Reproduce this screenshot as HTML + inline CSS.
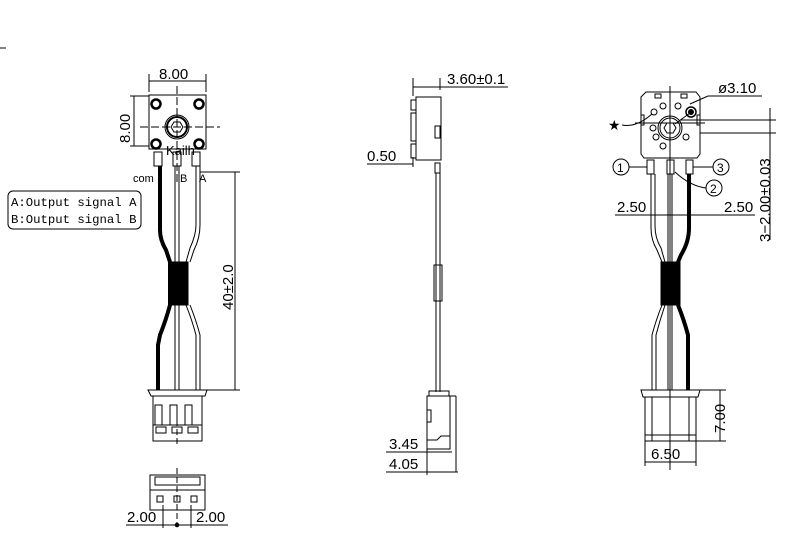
<!DOCTYPE html>
<html><head><meta charset="utf-8"><style>
html,body{margin:0;padding:0;background:#fff;}
svg{display:block;}
text{font-family:"Liberation Sans",sans-serif;fill:#000;}
.m{font-family:"Liberation Mono",monospace;}
</style></head><body>
<svg width="794" height="535" viewBox="0 0 794 535" xmlns="http://www.w3.org/2000/svg" fill="none" stroke="#000" stroke-width="1">
<line x1="0" y1="48" x2="6" y2="48"/>
<!-- ============ LEFT VIEW ============ -->
<line x1="149" y1="74" x2="149" y2="92"/><line x1="206" y1="74" x2="206" y2="92"/>
<line x1="149" y1="81" x2="206" y2="81"/>
<text x="159" y="79" font-size="15" stroke="none">8.00</text>
<line x1="130" y1="96" x2="149" y2="96"/><line x1="130" y1="146" x2="149" y2="146"/>
<line x1="134" y1="96" x2="134" y2="146"/>
<text transform="translate(130,143) rotate(-90)" font-size="15" stroke="none">8.00</text>
<rect x="149" y="95" width="57" height="54"/>
<circle cx="156" cy="104" r="4.5" stroke-width="2.5"/><circle cx="199" cy="104" r="4.5" stroke-width="2.5"/>
<circle cx="156" cy="144" r="4.5" stroke-width="2.5"/><circle cx="199" cy="144" r="4.5" stroke-width="2.5"/>
<circle cx="177" cy="127" r="12"/><circle cx="177" cy="127" r="10" stroke-width="2"/>
<polygon points="171,127 174,122 180,122 183,127 180,132 174,132"/>
<line x1="177" y1="86" x2="177" y2="182" stroke-dasharray="8,3"/>
<line x1="140" y1="127" x2="220" y2="127" stroke-dasharray="8,3"/>
<text x="166" y="155" font-size="13" stroke="none">Kailh</text>
<rect x="154" y="152" width="8" height="14"/><rect x="173" y="152" width="8" height="14"/><rect x="192" y="152" width="8" height="14"/>
<text x="133" y="182" font-size="11" stroke="none">com</text>
<text x="180" y="182" font-size="11" stroke="none">B</text>
<text x="199" y="182" font-size="11" stroke="none">A</text>
<path d="M160,166 L160,230 Q160,240 166,250 L170,262 L170,305 Q166,320 160,335 L158,345 L158,390" stroke-width="4"/>
<path d="M175,166 V390 M179,166 V390"/>
<path d="M196,166 V225 Q196,235 190,248 L186,262 M186,305 Q192,320 196,335 V390 M200,166 V225 Q200,238 194,250 L190,262 M190,305 Q196,320 200,335 V390"/>
<rect x="170" y="262" width="18" height="43" fill="#000"/>
<path d="M148,390 H207 L205,396 H151 Z"/>
<rect x="153" y="396" width="49" height="45"/>
<path d="M155,425 V405 H162 V425 M170,425 V405 H177 V425 M185,425 V405 H192 V425"/>
<line x1="153" y1="425" x2="202" y2="425"/>
<rect x="156" y="427" width="10" height="6"/><rect x="172" y="427" width="10" height="6"/><rect x="188" y="427" width="10" height="6"/>
<line x1="177" y1="420" x2="177" y2="447" stroke-dasharray="6,3"/>
<line x1="200" y1="172" x2="240" y2="172"/><line x1="207" y1="390" x2="240" y2="390"/>
<line x1="235" y1="172" x2="235" y2="390"/>
<text transform="translate(233,310) rotate(-90)" font-size="15" stroke="none">40±2.0</text>
<line x1="177" y1="468" x2="177" y2="527" stroke-dasharray="6,3"/>
<rect x="150" y="475" width="55" height="35"/>
<rect x="155" y="477" width="45" height="8"/>
<line x1="150" y1="490" x2="205" y2="490"/>
<rect x="157" y="496" width="6" height="6"/><rect x="174" y="496" width="6" height="6"/><rect x="191" y="496" width="6" height="6"/>
<line x1="126" y1="525" x2="228" y2="525"/>
<line x1="163" y1="505" x2="163" y2="528"/><line x1="191" y1="505" x2="191" y2="528"/>
<circle cx="177" cy="525" r="1.8" fill="#000"/>
<text x="127" y="522" font-size="15" stroke="none">2.00</text>
<text x="196" y="522" font-size="15" stroke="none">2.00</text>
<rect x="8" y="191" width="133" height="38" rx="5"/>
<text class="m" x="11" y="206" font-size="12.3" stroke="none">A:Output signal A</text>
<text class="m" x="11" y="223" font-size="12.3" stroke="none">B:Output signal B</text>

<!-- ============ MIDDLE VIEW ============ -->
<line x1="413" y1="78" x2="413" y2="96"/><line x1="440" y1="78" x2="440" y2="90"/>
<line x1="413" y1="87" x2="508" y2="87"/>
<text x="447" y="84" font-size="15" stroke="none">3.60±0.1</text>
<rect x="416" y="97" width="25" height="63"/>
<rect x="411" y="100" width="5" height="10"/><rect x="411" y="113" width="5" height="28"/><rect x="411" y="144" width="5" height="14"/>
<rect x="435" y="126" width="5" height="12"/>
<line x1="367" y1="164" x2="413" y2="164"/>
<text x="367" y="161" font-size="15" stroke="none">0.50</text>
<line x1="413" y1="157" x2="413" y2="167"/>
<rect x="435" y="163" width="5" height="10"/>
<path d="M436,173 V392 M440,173 V392"/>
<rect x="434" y="265" width="8" height="36"/>
<rect x="429" y="391" width="20" height="5"/>
<rect x="427" y="396" width="23" height="53"/>
<line x1="450" y1="396" x2="456" y2="396"/><line x1="456" y1="396" x2="456" y2="472"/>
<rect x="427" y="410" width="4" height="12"/>
<path d="M427,440 H437 L441,436 H450"/>
<line x1="386" y1="452" x2="452" y2="452"/><line x1="386" y1="472" x2="458" y2="472"/>
<line x1="427" y1="449" x2="427" y2="475"/>
<text x="389" y="449" font-size="15" stroke="none">3.45</text>
<text x="389" y="469" font-size="15" stroke="none">4.05</text>

<!-- ============ RIGHT VIEW ============ -->
<line x1="670" y1="86" x2="670" y2="470"/>
<path d="M646,92 H696 L700,97 V154 L697,158 H644 L641,154 V97 Z"/>
<rect x="655" y="94" width="6" height="4"/><rect x="681" y="94" width="6" height="4"/>
<rect x="641" y="115" width="3" height="10"/><rect x="697" y="115" width="3" height="10"/>
<circle cx="670" cy="128" r="12"/><circle cx="670" cy="128" r="10"/>
<polygon points="664,128 667,123 673,123 676,128 673,133 667,133"/>
<circle cx="691" cy="112" r="5" stroke-width="1.5"/><circle cx="691" cy="112" r="2.5" fill="#000"/>
<circle cx="654" cy="112" r="3"/><circle cx="663" cy="106" r="3"/><circle cx="678" cy="106" r="3"/>
<circle cx="653" cy="128" r="3"/><circle cx="656" cy="137" r="3"/><circle cx="663" cy="146" r="3"/><circle cx="686" cy="137" r="3"/>
<line x1="635" y1="123" x2="705" y2="123"/>
<rect x="647" y="160" width="7" height="14"/><rect x="667" y="160" width="7" height="14"/><rect x="686" y="160" width="7" height="14"/>
<text x="608" y="130" font-size="14" stroke="none">★</text>
<path d="M622,125 Q636,128 652,114"/>
<line x1="675" y1="124" x2="690" y2="113"/>
<line x1="690" y1="104" x2="708" y2="96"/><line x1="708" y1="96" x2="762" y2="96"/>
<text x="718" y="93" font-size="15" stroke="none">ø3.10</text>
<line x1="680" y1="120" x2="776" y2="120"/><line x1="700" y1="133" x2="776" y2="133"/>
<line x1="770" y1="108" x2="770" y2="240"/>
<text transform="translate(770,242) rotate(-90)" font-size="15" stroke="none">3−2.00±0.03</text>
<circle cx="621" cy="167" r="8"/><text x="617" y="172" font-size="12" stroke="none">1</text>
<line x1="629" y1="167" x2="647" y2="167"/>
<circle cx="721" cy="167" r="8"/><text x="717" y="172" font-size="12" stroke="none">3</text>
<line x1="693" y1="167" x2="713" y2="167"/>
<circle cx="714" cy="188" r="8"/><text x="710" y="193" font-size="12" stroke="none">2</text>
<path d="M706,188 Q690,186 675,172"/>
<line x1="615" y1="215" x2="755" y2="215"/>
<text x="617" y="212" font-size="15" stroke="none">2.50</text>
<text x="724" y="212" font-size="15" stroke="none">2.50</text>
<path d="M651,174 V228 Q651,240 657,250 L662,262 M655,174 V226 Q655,238 661,248 L665,262"/>
<path d="M662,305 Q656,320 652,335 V390 M665,305 Q660,320 656,335 V390"/>
<path d="M668,174 V390 M672,174 V390"/>
<path d="M689,174 V228 Q689,242 681,255 L678,262 M678,305 Q684,320 688,335 V390" stroke-width="4"/>
<rect x="661" y="262" width="19" height="43" fill="#000"/>
<path d="M641,390 H700 L698,397 H643 Z"/>
<rect x="645" y="397" width="51" height="44"/>
<line x1="652" y1="397" x2="652" y2="441"/><line x1="689" y1="397" x2="689" y2="441"/>
<line x1="645" y1="435" x2="696" y2="435"/>
<line x1="700" y1="390" x2="726" y2="390"/><line x1="696" y1="441" x2="726" y2="441"/>
<line x1="720" y1="390" x2="720" y2="441"/>
<text transform="translate(725,433) rotate(-90)" font-size="15" stroke="none">7.00</text>
<line x1="645" y1="441" x2="645" y2="466"/><line x1="696" y1="441" x2="696" y2="466"/>
<line x1="645" y1="462" x2="696" y2="462"/>
<text x="651" y="459" font-size="15" stroke="none">6.50</text>
</svg>
</body></html>
